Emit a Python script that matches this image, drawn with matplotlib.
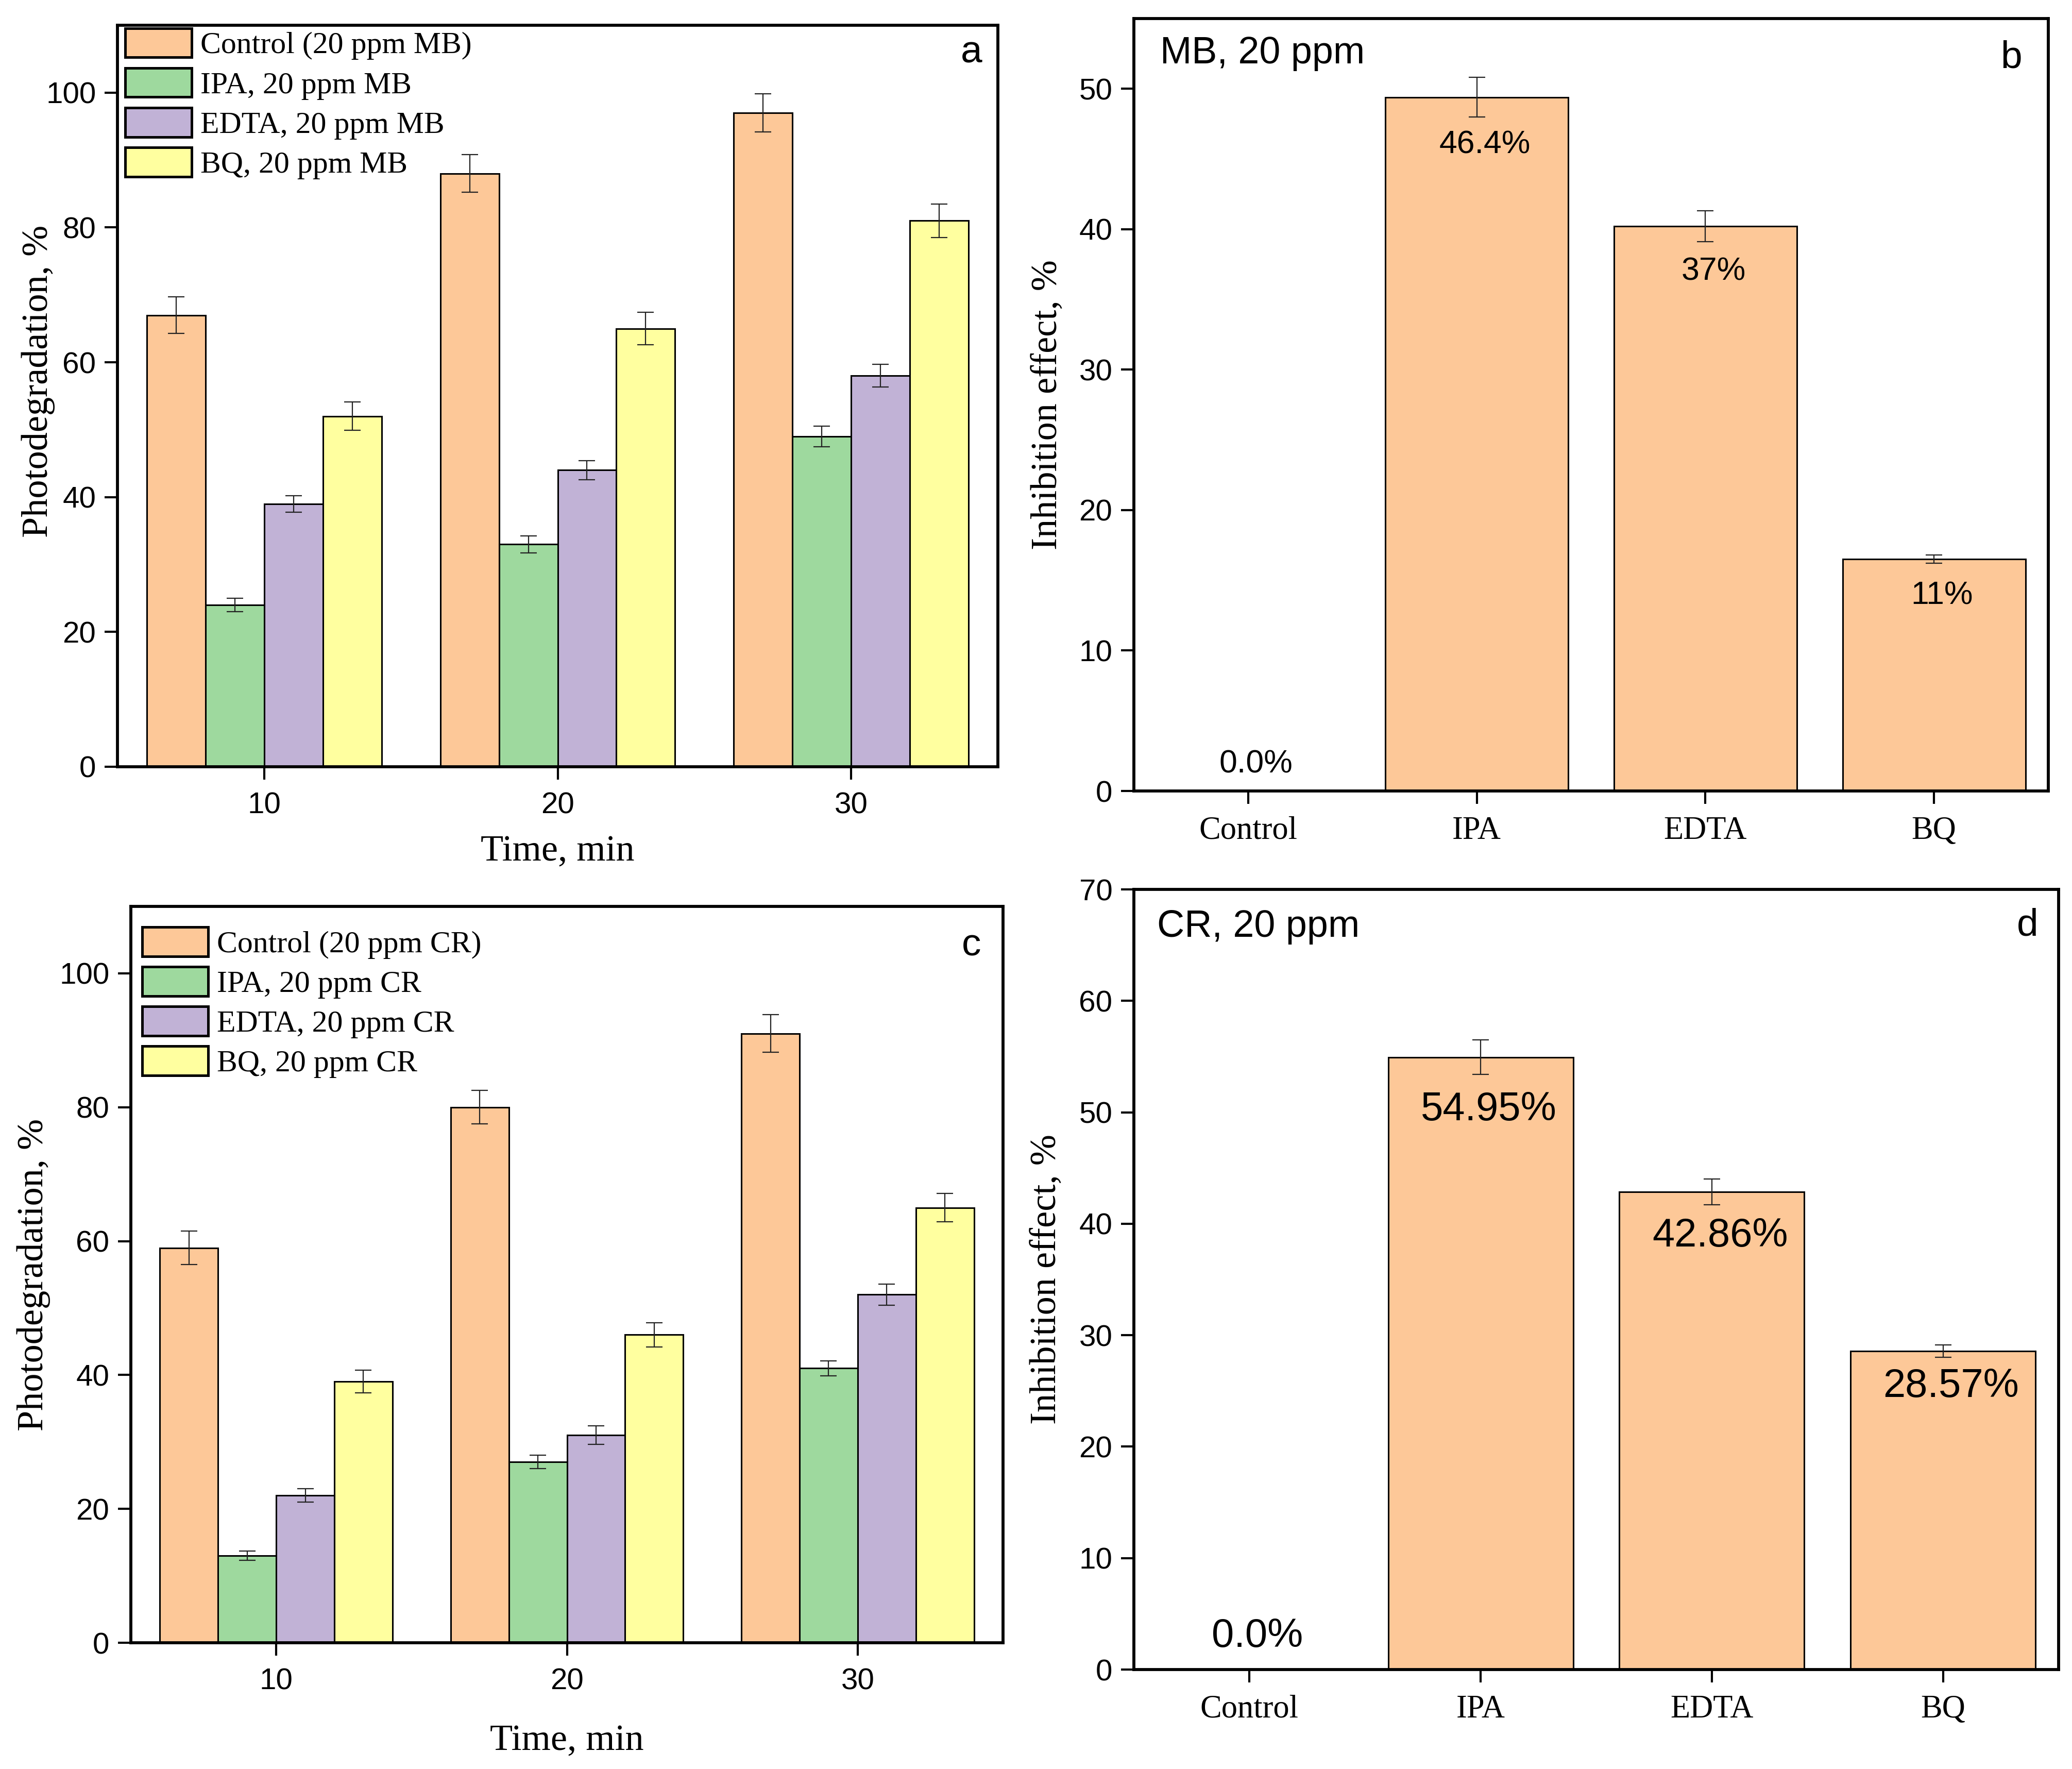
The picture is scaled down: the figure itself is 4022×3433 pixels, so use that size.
import matplotlib
matplotlib.use("Agg")
import matplotlib.pyplot as plt
import numpy as np

# ---------------- data ----------------
times = [10, 20, 30]
series_mb = ["Control (20 ppm MB)", "IPA, 20 ppm MB", "EDTA, 20 ppm MB", "BQ, 20 ppm MB"]
series_cr = ["Control (20 ppm CR)", "IPA, 20 ppm CR", "EDTA, 20 ppm CR", "BQ, 20 ppm CR"]

mb_control = [67, 88, 97]
mb_ipa = [24, 33, 49]
mb_edta = [39, 44, 58]
mb_bq = [52, 65, 81]
mb_control_err = [2.7, 2.8, 2.8]
mb_ipa_err = [1.0, 1.25, 1.5]
mb_edta_err = [1.2, 1.4, 1.7]
mb_bq_err = [2.1, 2.4, 2.5]

cr_control = [59, 80, 91]
cr_ipa = [13, 27, 41]
cr_edta = [22, 31, 52]
cr_bq = [39, 46, 65]
cr_control_err = [2.5, 2.5, 2.8]
cr_ipa_err = [0.7, 1.0, 1.1]
cr_edta_err = [1.0, 1.4, 1.6]
cr_bq_err = [1.7, 1.8, 2.1]

scavengers = ["Control", "IPA", "EDTA", "BQ"]
mb_inhib = [0.0, 49.4, 40.2, 16.5]
mb_inhib_err = [0.0, 1.4, 1.1, 0.3]
mb_inhib_labels = ["0.0%", "46.4%", "37%", "11%"]

cr_inhib = [0.0, 54.95, 42.86, 28.57]
cr_inhib_err = [0.0, 1.55, 1.15, 0.55]
cr_inhib_labels = ["0.0%", "54.95%", "42.86%", "28.57%"]

# ---------------- style ----------------
colors = ["#FDC898", "#9ED99E", "#C1B2D6", "#FFFF9F"]
SERIF = ["Liberation Serif", "DejaVu Serif"]
SANS = ["Liberation Sans", "DejaVu Sans"]
W, H = 4022, 3433
SPINE_LW = 4.2
BAR_LW = 2.2
ERR_KW = dict(ecolor="#222222", elinewidth=1.6, capsize=11.5, capthick=1.6)

fig = plt.figure(figsize=(W / 100, H / 100), dpi=100)


def px_axes(l, t, r, b):
    return fig.add_axes([l / W, 1 - b / H, (r - l) / W, (b - t) / H])


def style_axes(ax):
    for s in ax.spines.values():
        s.set_linewidth(SPINE_LW)
        s.set_color("black")
    ax.tick_params(axis="both", which="major", direction="out", length=18, width=3,
                   top=False, right=False)
    ax.tick_params(axis="y", pad=12)
    for lab in ax.get_yticklabels():
        lab.set_family(SANS)
        lab.set_fontsize(42)


def grouped(ax, vals, errs, names, letter, letter_xy, legend_anchor, xlab_y, ylab_x, ylab_y):
    n = len(vals)
    width = 2.0
    offsets = [-3, -1, 1, 3]
    x = np.array(times, dtype=float)
    handles = []
    for i in range(n):
        h = ax.bar(x + offsets[i], vals[i], width, color=colors[i], edgecolor="black",
                   linewidth=BAR_LW, label=names[i], zorder=2)
        ax.errorbar(x + offsets[i], vals[i], yerr=errs[i], fmt="none", zorder=3, **ERR_KW)
        handles.append(h)
    ax.set_xlim(5, 35)
    ax.set_ylim(0, 110)
    ax.set_xticks(times)
    ax.set_yticks([0, 20, 40, 60, 80, 100])
    style_axes(ax)
    ax.tick_params(axis="x", pad=17)
    for lab in ax.get_xticklabels():
        lab.set_family(SANS)
        lab.set_fontsize(42)
    ax.set_xlabel("Time, min", family=SERIF, fontsize=52)
    ax.set_ylabel("Photodegradation, %", family=SERIF, fontsize=52)
    ax.xaxis.set_label_coords(0.5, xlab_y)
    ax.yaxis.set_label_coords(ylab_x, ylab_y)
    leg = ax.legend(handles=handles, loc="upper left", bbox_to_anchor=legend_anchor,
                    frameon=False, borderaxespad=0, borderpad=0,
                    prop={"family": SERIF, "size": 43},
                    handlelength=2.15, handleheight=1.08, handletextpad=0.28,
                    labelspacing=0.26)
    for p in leg.get_patches():
        p.set_linewidth(3.6)
    ax.text(letter_xy[0], letter_xy[1], letter, transform=ax.transAxes, ha="right",
            va="center", family=SANS, fontsize=54)


def inhibition(ax, vals, errs, labels, label_y, label_size, ylim, yticks, title,
               title_xy, letter, letter_xy, ylab_x):
    x = np.arange(len(scavengers))
    ax.bar(x, vals, 0.8, color=colors[0], edgecolor="black", linewidth=BAR_LW, zorder=2)
    ax.errorbar(x[1:], vals[1:], yerr=errs[1:], fmt="none", zorder=3, **ERR_KW)
    for xi, yi, t in zip(x, label_y, labels):
        ax.text(xi + 0.035, yi, t, ha="center", va="center", family=SANS,
                fontsize=label_size, zorder=4)
    ax.set_xlim(-0.5, 3.5)
    ax.set_ylim(*ylim)
    ax.set_yticks(yticks)
    ax.set_xticks(x)
    ax.set_xticklabels(scavengers, family=SERIF, fontsize=45)
    style_axes(ax)
    ax.tick_params(axis="x", pad=17)
    ax.set_ylabel("Inhibition effect, %", family=SERIF, fontsize=52)
    ax.yaxis.set_label_coords(ylab_x, 0.5)
    ax.text(title_xy[0], title_xy[1], title, transform=ax.transAxes, ha="left",
            va="center", family=SANS, fontsize=53)
    ax.text(letter_xy[0], letter_xy[1], letter, transform=ax.transAxes, ha="right",
            va="center", family=SANS, fontsize=54)


# panel a
ax_a = px_axes(228, 49, 1937, 1488)
grouped(ax_a, [mb_control, mb_ipa, mb_edta, mb_bq],
        [mb_control_err, mb_ipa_err, mb_edta_err, mb_bq_err],
        series_mb, "a", (0.982, 0.963), (0.009, 0.996), -0.092, -0.071, 0.52)

# panel b
ax_b = px_axes(2201, 36, 3976, 1535)
inhibition(ax_b, mb_inhib, mb_inhib_err, mb_inhib_labels, [1.9, 46.0, 37.0, 13.9], 45,
           (0, 55), [0, 10, 20, 30, 40, 50], "MB, 20 ppm", (0.029, 0.955),
           "b", (0.971, 0.949), -0.076)

# panel c
ax_c = px_axes(254, 1759, 1947, 3188)
grouped(ax_c, [cr_control, cr_ipa, cr_edta, cr_bq],
        [cr_control_err, cr_ipa_err, cr_edta_err, cr_bq_err],
        series_cr, "c", (0.975, 0.947), (0.013, 0.972), -0.111, -0.092, 0.5)

# panel d
ax_d = px_axes(2201, 1726, 3996, 3240)
inhibition(ax_d, cr_inhib, cr_inhib_err, cr_inhib_labels, [3.0, 50.25, 38.9, 25.4], 56,
           (0, 70), [0, 10, 20, 30, 40, 50, 60, 70], "CR, 20 ppm", (0.025, 0.952),
           "d", (0.978, 0.954), -0.076)

fig.savefig("out.png", dpi=100, facecolor="white")
